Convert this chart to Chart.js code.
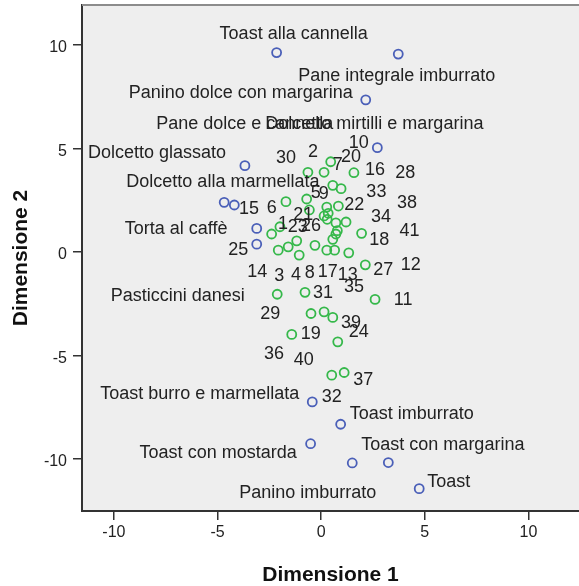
<!DOCTYPE html>
<html>
<head>
<meta charset="utf-8">
<script src="https://cdn.jsdelivr.net/npm/chart.js@4"></script>
<style>
  html, body { margin: 0; padding: 0; background: #fff; overflow: hidden; }
  #wrap { width: 579px; height: 586px; }
</style>
</head>
<body>
<div id="wrap"><canvas id="mds" width="579" height="586"></canvas></div>
<script>
// foods (blue points)
var foodNames = [
  'Toast alla cannella', 'Pane integrale imburrato', 'Panino dolce con margarina',
  'Dolcetto mirtilli e margarina', 'Dolcetto glassato', 'Pane dolce e cannella',
  'Dolcetto alla marmellata', 'Torta al caffè', 'Pasticcini danesi',
  'Toast burro e marmellata', 'Toast imburrato', 'Toast con mostarda',
  'Toast con margarina', 'Panino imburrato', 'Toast'
];
var foodX = [-2.15, 3.72, 2.15, 2.71, -3.68, -4.68, -4.19, -3.11, -3.11, -0.43, 0.94, -0.51, 3.24, 1.50, 4.73];
var foodY = [9.62, 9.55, 7.34, 5.03, 4.16, 2.39, 2.26, 1.13, 0.37, -7.25, -8.33, -9.27, -10.18, -10.20, -11.44];

// subjects (green points), ids 1..41
var subjectIds = [1, 2, 3, 4, 5, 6, 7, 8, 9, 10, 11, 12, 13, 14, 15, 16, 17, 18, 19, 20, 21,
  22, 23, 24, 25, 26, 27, 28, 29, 30, 31, 32, 33, 34, 35, 36, 37, 38, 39, 40, 41];
var subjectX = [-1.99, 0.14, -1.06, -0.30, -0.70, -2.39, 0.46, 0.27, 0.27, 0.56, 2.60, 1.33, 0.56, -1.59,
  -1.70, 0.96, 0.65, 0.78, -1.42, 1.58, -0.57, 0.34, -1.18, 0.56, -2.07, 0.14, 2.13, 0.29, -2.12, -0.64,
  -0.78, 0.51, 0.83, 1.20, 0.71, -0.49, 1.11, 0.71, 0.14, 0.80, 1.95];
var subjectY = [1.21, 3.84, -0.16, 0.31, 2.55, 0.86, 4.35, 0.08, 2.16, 3.21, -2.30, -0.05, 0.60, 0.24,
  2.42, 3.05, 0.08, 1.02, -3.99, 3.82, 2.02, 1.86, 0.53, -3.17, 0.08, 1.73, -0.63, 1.57, -2.05, 3.84,
  -1.96, -5.96, 2.21, 1.44, 0.86, -2.98, -5.83, 1.40, -2.90, -4.35, 0.89];

var tickValues = [-10, -5, 0, 5, 10];

// where SPSS put each label, in pixels from its point
var foodLabelOffset = [[-57, -19], [-100, 22], [-237, -7], [-112, -24], [-157, -13], [-68, -78],
  [-108, -23], [-132, 1], [-146, 52], [-212, -8], [9, -10], [-171, 9], [-27, -18], [-113, 30], [8, -7]];
var subjectLabelOffset = [[3, -3], [-11, -20], [-20, 21], [-19, 30], [9, -6], [0, -26], [7, 3],
  [-17, 23], [-3, -13], [26, -42], [28, 1], [62, 12], [15, 36], [-31, 25], [-37, 7], [34, -19],
  [-7, 22], [42, 9], [19, 0], [-3, -16], [-6, 5], [26, -8], [1, -14], [26, 15], [-40, 0], [-13, 10],
  [18, 5], [78, -46], [-7, 20], [-22, -14], [18, 1], [0, 22], [38, -14], [35, -5], [18, 53],
  [-37, 41], [19, 8], [71, -20], [27, 11], [-34, 18], [48, -2]];

var FONT = "'Liberation Sans', Arial, sans-serif";

function toPoints(xs, ys) {
  var pts = [];
  for (var i = 0; i < xs.length; i++) pts.push({ x: xs[i], y: ys[i] });
  return pts;
}

var plotFrame = {
  id: 'plotFrame',
  beforeDraw: function (chart) {
    var a = chart.chartArea, ctx = chart.ctx;
    ctx.save();
    ctx.fillStyle = '#eeeeee';
    ctx.fillRect(a.left, a.top, a.right - a.left, a.bottom - a.top);
    ctx.restore();
  },
  afterDraw: function (chart) {
    var a = chart.chartArea, ctx = chart.ctx;
    ctx.save();
    ctx.strokeStyle = '#8c8c8c';
    ctx.lineWidth = 2;
    ctx.beginPath();
    ctx.moveTo(a.left, a.top);
    ctx.lineTo(a.right, a.top);
    ctx.stroke();
    ctx.restore();
  }
};

var pointLabels = {
  id: 'pointLabels',
  afterDatasetsDraw: function (chart) {
    var ctx = chart.ctx;
    ctx.save();
    ctx.font = '18px ' + FONT;
    ctx.fillStyle = '#222';
    ctx.textBaseline = 'middle';

    var food = chart.getDatasetMeta(0).data;
    ctx.textAlign = 'left';
    for (var i = 0; i < food.length; i++) {
      ctx.fillText(foodNames[i], food[i].x + foodLabelOffset[i][0], food[i].y + foodLabelOffset[i][1]);
    }

    var subj = chart.getDatasetMeta(1).data;
    ctx.textAlign = 'center';
    for (var j = 0; j < subj.length; j++) {
      ctx.fillText(String(subjectIds[j]), subj[j].x + subjectLabelOffset[j][0], subj[j].y + subjectLabelOffset[j][1]);
    }
    ctx.restore();
  }
};

function useTickValues(scale) {
  scale.ticks = tickValues.map(function (v) { return { value: v }; });
}

var ctx = document.getElementById('mds');
var mdsChart = new Chart(ctx, {
  type: 'scatter',
  data: {
    datasets: [
      {
        label: 'Alimenti',
        data: toPoints(foodX, foodY),
        pointRadius: 4.5,
        borderWidth: 1.8,
        borderColor: '#4a5fb8',
        backgroundColor: 'rgba(0,0,0,0)'
      },
      {
        label: 'Soggetti',
        data: toPoints(subjectX, subjectY),
        pointRadius: 4.5,
        borderWidth: 1.8,
        borderColor: '#35b84a',
        backgroundColor: 'rgba(0,0,0,0)'
      }
    ]
  },
  options: {
    responsive: false,
    animation: false,
    events: [],
    layout: { autoPadding: false, padding: { top: 5, right: 0, bottom: 0, left: 0 } },
    plugins: {
      legend: { display: false },
      tooltip: { enabled: false }
    },
    scales: {
      x: {
        type: 'linear',
        min: -11.54,
        max: 12.44,
        afterBuildTicks: useTickValues,
        afterFit: function (s) {
          s.height = 75;
          s.paddingLeft = 0;
          s.paddingRight = 0;
        },
        grid: { drawOnChartArea: false, drawTicks: true, tickLength: 9, color: '#333', lineWidth: 1.5 },
        border: { display: true, color: '#333', width: 2 },
        ticks: { padding: 3, color: '#222', font: { family: FONT, size: 16 } },
        title: {
          display: true, text: 'Dimensione 1', color: '#111',
          font: { family: FONT, size: 21, weight: 'bold', lineHeight: 1 },
          padding: { top: 0, bottom: 0 }
        }
      },
      y: {
        type: 'linear',
        min: -12.52,
        max: 11.92,
        afterBuildTicks: useTickValues,
        afterFit: function (s) {
          s.width = 82;
          s.paddingTop = 0;
          s.paddingBottom = 0;
        },
        grid: { drawOnChartArea: false, drawTicks: true, tickLength: 9, color: '#333', lineWidth: 1.5 },
        border: { display: true, color: '#333', width: 2 },
        ticks: { padding: 6, labelOffset: 3, color: '#222', font: { family: FONT, size: 16 } },
        title: {
          display: true, text: 'Dimensione 2', color: '#111',
          font: { family: FONT, size: 21, weight: 'bold', lineHeight: 1 },
          padding: { top: 11, bottom: 0 }
        }
      }
    }
  },
  plugins: [plotFrame, pointLabels]
});
</script>
</body>
</html>
